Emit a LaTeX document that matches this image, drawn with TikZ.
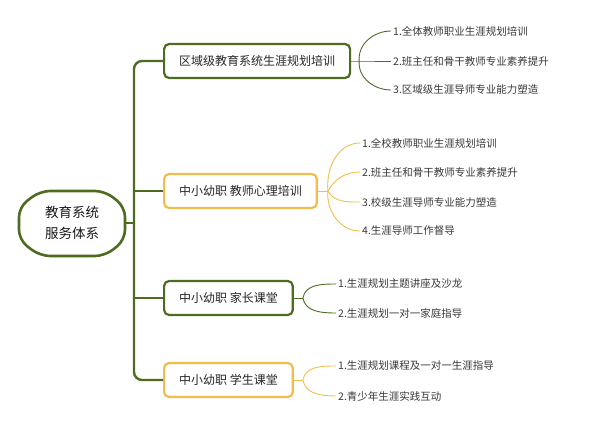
\documentclass[tikz,border=0pt]{standalone}
\usepackage{fontspec}
\setmainfont{Noto Sans CJK SC}
\usepackage{xcolor}
\usetikzlibrary{positioning, calc}
\definecolor{mapgreen}{HTML}{4D6B21}
\definecolor{mapgold}{HTML}{F2BD4A}

\begin{document}
\begin{tikzpicture}[x=1pt, y=-1pt,
    every node/.style={font=\fontsize{10.5}{12}\selectfont, text=black!78},
    topic/.style={draw=#1, line width=2.2pt, rounded corners=5pt, fill=white, anchor=west, minimum height=34pt, inner xsep=15pt, font=\fontsize{12}{14}\selectfont, text=black!85},
    leaf/.style={anchor=west, inner xsep=2pt, inner ysep=1pt},
    trunk/.style={draw=mapgreen, line width=2.4pt, rounded corners=8pt},
    twig/.style={draw=#1, line width=0.9pt}]
    \useasboundingbox (0,0) rectangle (600,434);
    % Root
    \draw[mapgreen, line width=2.6pt, rounded corners=10pt] (19,207) -- (40,191) -- (105,191) -- (125,207) -- (125,240) -- (105,256) -- (40,256) -- (19,240) -- cycle;
    \node[minimum width=107pt, minimum height=66pt, align=center, font=\fontsize{13.5}{21}\selectfont, text=black!90] (root) at (72,223) {教育系统\\服务体系};
    % Topics
    \node[topic=mapgreen] (reg) at (163,61) {区域级教育系统生涯规划培训};
    \node[topic=mapgold] (psy) at (163,191) {中小幼职 教师心理培训};
    \node[topic=mapgreen] (par) at (163,298) {中小幼职 家长课堂};
    \node[topic=mapgold] (stu) at (163,380) {中小幼职 学生课堂};
    % Trunk
    \coordinate (fork) at (134,223);
    \draw[trunk] (root.east) -- (fork);
    \draw[trunk] (reg.west) -| (fork) |- (stu.west);
    \draw[trunk] (fork |- psy.west) -- (psy.west);
    \draw[trunk] (fork |- par.west) -- (par.west);
    % Leaves
    \node[leaf] (reg1) at (391,31) {1.全体教师职业生涯规划培训};
    \node[leaf] (reg2) at (391,61) {2.班主任和骨干教师专业素养提升};
    \node[leaf] (reg3) at (391,90) {3.区域级生涯导师专业能力塑造};
    \node[leaf] (psy1) at (360,143) {1.全校教师职业生涯规划培训};
    \node[leaf] (psy2) at (360,172) {2.班主任和骨干教师专业素养提升};
    \node[leaf] (psy3) at (360,202) {3.校级生涯导师专业能力塑造};
    \node[leaf] (psy4) at (360,231) {4.生涯导师工作督导};
    \node[leaf] (par1) at (336,284) {1.生涯规划主题讲座及沙龙};
    \node[leaf] (par2) at (336,313) {2.生涯规划一对一家庭指导};
    \node[leaf] (stu1) at (336,366) {1.生涯规划课程及一对一生涯指导};
    \node[leaf] (stu2) at (336,396) {2.青少年生涯实践互动};
    % Twigs
    \draw[twig=mapgreen] (reg.east) -- ++(8,0) coordinate (regs) -- (reg2.west);
    \draw[twig=mapgreen] (regs) to[out=95,in=180] (reg1.west);
    \draw[twig=mapgreen] (regs) to[out=-95,in=180] (reg3.west);
    \draw[twig=mapgold] (psy.east) -- ++(10,0) coordinate (psys);
    \draw[twig=mapgold] (psys) to[out=95,in=180] (psy1.west);
    \draw[twig=mapgold] (psys) to[out=60,in=180] (psy2.west);
    \draw[twig=mapgold] (psys) to[out=-60,in=180] (psy3.west);
    \draw[twig=mapgold] (psys) to[out=-95,in=180] (psy4.west);
    \draw[twig=mapgreen] (par.east) -- ++(9,0) coordinate (pars);
    \draw[twig=mapgreen] (pars) to[out=80,in=180] (par1.west);
    \draw[twig=mapgreen] (pars) to[out=-80,in=180] (par2.west);
    \draw[twig=mapgold] (stu.east) -- ++(9,0) coordinate (stus);
    \draw[twig=mapgold] (stus) to[out=80,in=180] (stu1.west);
    \draw[twig=mapgold] (stus) to[out=-80,in=180] (stu2.west);
\end{tikzpicture}
\end{document}
